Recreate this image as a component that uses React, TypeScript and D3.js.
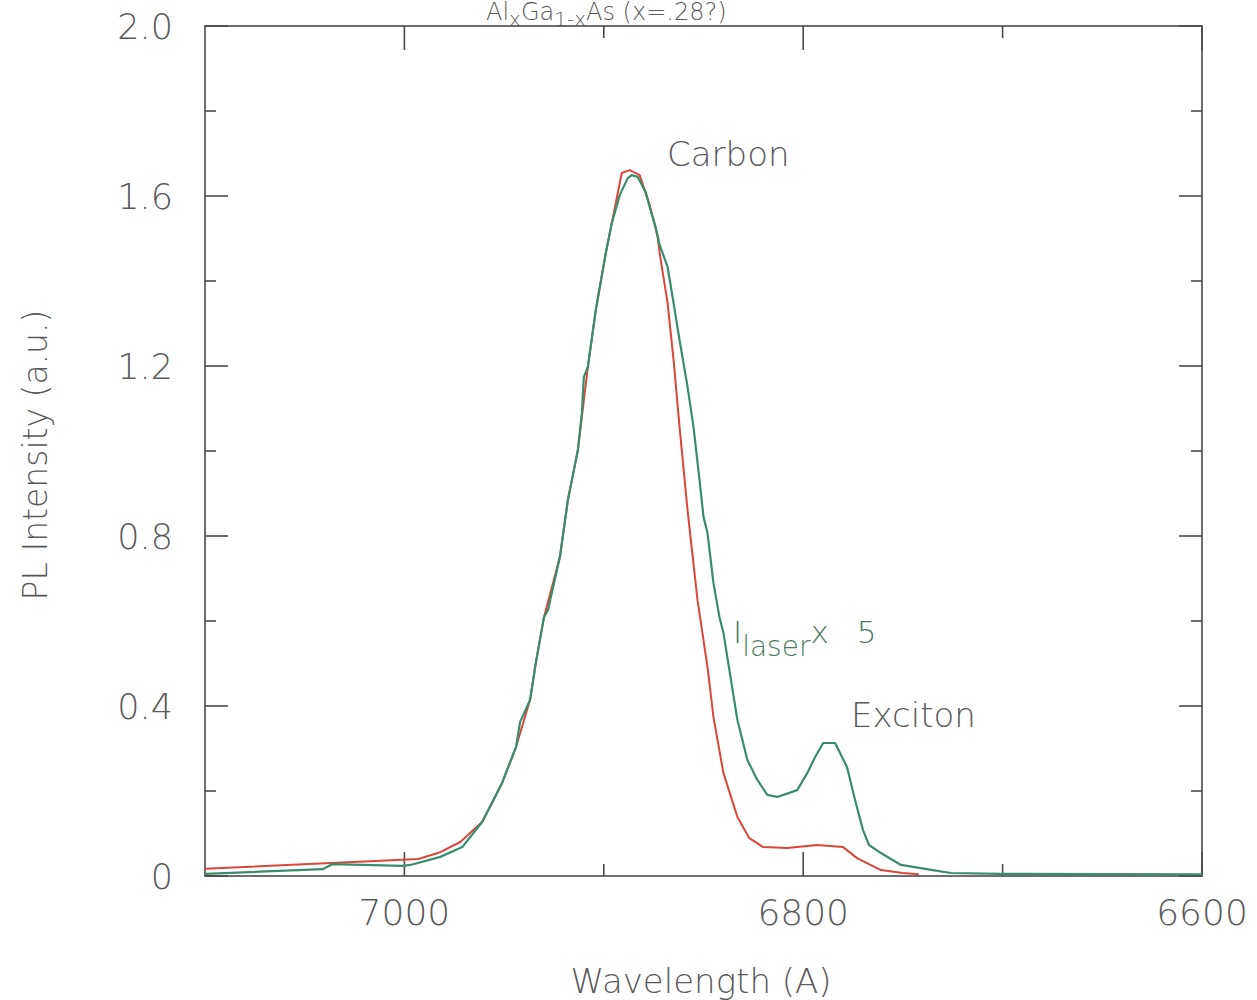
import React from 'react';
import * as d3 from 'd3';

// wavelength (A) / intensity pairs
const redWave = [7100, 7001, 6993, 6982, 6972, 6961, 6951, 6944, 6937, 6934, 6930, 6922, 6918, 6913, 6908, 6904, 6899, 6896, 6891, 6887, 6882, 6877, 6873, 6872, 6868, 6865, 6862, 6858, 6853, 6848, 6845, 6840, 6833, 6827, 6820, 6808, 6793, 6780, 6773, 6761, 6750, 6742];
const redInt = [0.017, 0.038, 0.040, 0.056, 0.080, 0.127, 0.219, 0.304, 0.414, 0.504, 0.609, 0.751, 0.885, 1.002, 1.198, 1.332, 1.466, 1.536, 1.654, 1.661, 1.649, 1.579, 1.504, 1.466, 1.348, 1.214, 1.056, 0.861, 0.649, 0.492, 0.374, 0.242, 0.139, 0.089, 0.068, 0.066, 0.073, 0.068, 0.042, 0.014, 0.007, 0.004];

const greenWave = [7100, 7041, 7036, 7001, 6997, 6982, 6971, 6961, 6951, 6944, 6942, 6937, 6934, 6930, 6928, 6922, 6918, 6913, 6911, 6910, 6908, 6904, 6899, 6896, 6892, 6888, 6886, 6883, 6879, 6877, 6874, 6872, 6868, 6865, 6862, 6858, 6855, 6852, 6850, 6848, 6845, 6842, 6840, 6833, 6828, 6823, 6818, 6813, 6803, 6798, 6794, 6790, 6784, 6778, 6774, 6770, 6767, 6761, 6751, 6735, 6726, 6701, 6600];
const greenInt = [0.005, 0.016, 0.028, 0.024, 0.026, 0.045, 0.068, 0.127, 0.219, 0.304, 0.362, 0.414, 0.504, 0.609, 0.626, 0.751, 0.885, 1.002, 1.089, 1.174, 1.198, 1.332, 1.466, 1.536, 1.602, 1.642, 1.649, 1.645, 1.609, 1.574, 1.527, 1.485, 1.433, 1.348, 1.261, 1.151, 1.056, 0.932, 0.845, 0.807, 0.689, 0.609, 0.572, 0.367, 0.273, 0.226, 0.191, 0.186, 0.202, 0.242, 0.280, 0.313, 0.313, 0.256, 0.179, 0.108, 0.073, 0.054, 0.026, 0.014, 0.007, 0.005, 0.004];

const xMajor = [7000, 6800, 6600];
const xMinor = [6900, 6700];
const yMajor = [0, 0.4, 0.8, 1.2, 1.6, 2.0];
const yMinor = [0.2, 0.6, 1.0, 1.4, 1.8];

const W = 1257;
const H = 1000;
const left = 205, right = 1202, top = 26, bottom = 876;
const font = "'DejaVu Sans', sans-serif";
const ink = '#5a5a5a';

export default function App() {
  const x = d3.scaleLinear().domain([7100, 6600]).range([left, right]);
  const y = d3.scaleLinear().domain([0, 2]).range([bottom, top]);

  const line = d3.line<[number, number]>()
    .x(d => x(d[0]))
    .y(d => y(d[1]));

  const red = redWave.map((w, i) => [w, redInt[i]] as [number, number]);
  const green = greenWave.map((w, i) => [w, greenInt[i]] as [number, number]);

  return (
    <div style={{ position: 'absolute', left: 0, top: 0 }}>
      <svg width={W} height={H} style={{ display: 'block', background: '#fff' }}>
        {/* title, sitting on the top edge of the frame */}
        <text x={486} y={20} fontFamily={font} fontWeight={300} fontSize={24} fill={ink}>
          Al<tspan dy={6} fontSize={20}>x</tspan>
          <tspan dy={-6}>Ga</tspan>
          <tspan dy={6} fontSize={20}>1-x</tspan>
          <tspan dy={-6}>As (x=.28?)</tspan>
        </text>

        {/* frame */}
        <rect x={left} y={top} width={right - left} height={bottom - top}
          fill="none" stroke="#4a4a4a" strokeWidth={1.6} />

        {/* y ticks, both sides */}
        {yMajor.map(v => (
          <g key={'ym' + v}>
            <line x1={left} x2={left + 23} y1={y(v)} y2={y(v)} stroke="#4a4a4a" strokeWidth={1.6} />
            <line x1={right} x2={right - 23} y1={y(v)} y2={y(v)} stroke="#4a4a4a" strokeWidth={1.6} />
            <text x={173} y={y(v)} dy="0.36em" textAnchor="end" fontFamily={font} fontWeight={300}
              fontSize={35} fill={ink}>{v === 0 ? '0' : d3.format('.1f')(v)}</text>
          </g>
        ))}
        {yMinor.map(v => (
          <g key={'yn' + v}>
            <line x1={left} x2={left + 11} y1={y(v)} y2={y(v)} stroke="#4a4a4a" strokeWidth={1.6} />
            <line x1={right} x2={right - 11} y1={y(v)} y2={y(v)} stroke="#4a4a4a" strokeWidth={1.6} />
          </g>
        ))}

        {/* x ticks, top and bottom */}
        {xMajor.map(v => (
          <g key={'xm' + v}>
            <line x1={x(v)} x2={x(v)} y1={bottom} y2={bottom - 24} stroke="#4a4a4a" strokeWidth={1.6} />
            <line x1={x(v)} x2={x(v)} y1={top} y2={top + 24} stroke="#4a4a4a" strokeWidth={1.6} />
            <text x={x(v)} y={925} textAnchor="middle" fontFamily={font} fontWeight={300}
              fontSize={36} fill={ink}>{v}</text>
          </g>
        ))}
        {xMinor.map(v => (
          <g key={'xn' + v}>
            <line x1={x(v)} x2={x(v)} y1={bottom} y2={bottom - 12} stroke="#4a4a4a" strokeWidth={1.6} />
            <line x1={x(v)} x2={x(v)} y1={top} y2={top + 12} stroke="#4a4a4a" strokeWidth={1.6} />
          </g>
        ))}

        {/* spectra */}
        <path d={line(red) ?? ''} fill="none" stroke="#d8463c" strokeWidth={2} strokeLinejoin="round" />
        <path d={line(green) ?? ''} fill="none" stroke="#3a8c6c" strokeWidth={2.2} strokeLinejoin="round" />

        {/* annotations */}
        <text x={667} y={166} fontFamily={font} fontWeight={300} fontSize={34} fill={ink}>Carbon</text>
        <text x={851} y={727} fontFamily={font} fontWeight={300} fontSize={34} fill={ink}>Exciton</text>
        <text x={733} y={643} fontFamily={font} fontWeight={300} fontSize={31} fill="#4d7a62">
          I<tspan dy={13} fontSize={28}>laser</tspan>
          <tspan dy={-13}>x</tspan>
          <tspan dx={28}>5</tspan>
        </text>

        {/* axis titles */}
        <text x={701} y={993} textAnchor="middle" fontFamily={font} fontWeight={300}
          fontSize={34} fill={ink}>Wavelength (A)</text>
        <text transform="translate(47,455) rotate(-90)" textAnchor="middle" fontFamily={font}
          fontWeight={300} fontSize={33} fill={ink}>PL Intensity (a.u.)</text>
      </svg>
    </div>
  );
}
